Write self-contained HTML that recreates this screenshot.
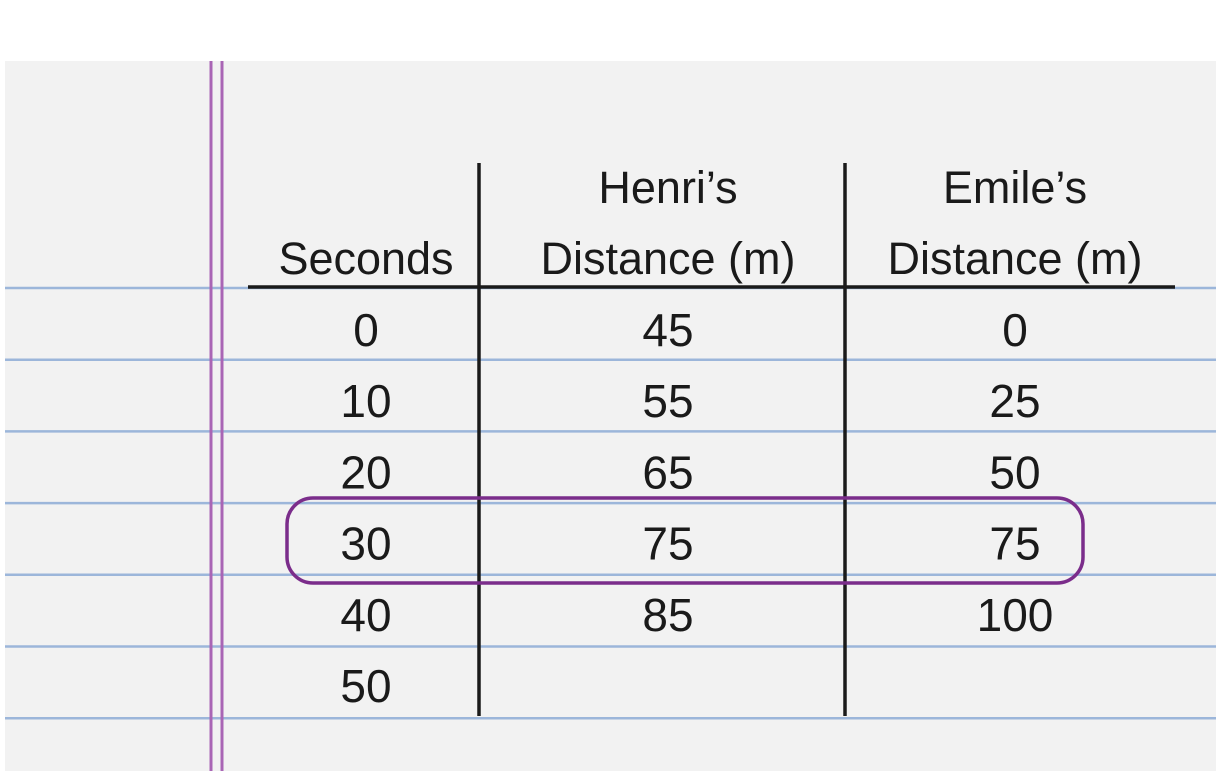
<!DOCTYPE html>
<html><head><meta charset="utf-8"><style>
html,body{margin:0;padding:0;background:#fff;}
svg{display:block;}
text{font-family:"Liberation Sans",sans-serif;fill:#1a1a1a;}
</style></head><body>
<svg width="1232" height="780" viewBox="0 0 1232 780">
<rect x="5" y="61" width="1211" height="710" fill="#f2f2f2"/>
<g id="rules"></g>
<line x1="211" y1="61" x2="211" y2="771" stroke="#a965b5" stroke-width="3"/>
<line x1="222" y1="61" x2="222" y2="771" stroke="#a965b5" stroke-width="3"/>
<g id="table">
<line x1="248" y1="287" x2="1175" y2="287" stroke="#1a1a1a" stroke-width="3.5"/>
<line x1="479" y1="163" x2="479" y2="716" stroke="#1a1a1a" stroke-width="3.5"/>
<line x1="845" y1="163" x2="845" y2="716" stroke="#1a1a1a" stroke-width="3.5"/>
<text x="366" y="274" font-size="45" text-anchor="middle">Seconds</text>
<text x="668" y="203" font-size="45" text-anchor="middle">Henri’s</text>
<text x="668" y="274" font-size="45" text-anchor="middle">Distance (m)</text>
<text x="1015" y="203" font-size="45" text-anchor="middle">Emile’s</text>
<text x="1015" y="274" font-size="45" text-anchor="middle">Distance (m)</text>
</g>
<g id="cells"></g>
<rect x="287" y="498" width="796" height="85" rx="26" fill="none" stroke="#7b2d8b" stroke-width="3.5"/>
</svg>
<script>
const seconds=["0","10","20","30","40","50"];
const henri=["45","55","65","75","85",""];
const emile=["0","25","50","75","100",""];
const NS="http://www.w3.org/2000/svg";
const rules=document.getElementById('rules');
for(let i=0;i<7;i++){
  const l=document.createElementNS(NS,'line');
  const y=288+i*71.7;
  l.setAttribute('x1',5);l.setAttribute('x2',1216);l.setAttribute('y1',y);l.setAttribute('y2',y);
  l.setAttribute('stroke','#9cb6da');l.setAttribute('stroke-width','2.5');
  
  
  rules.appendChild(l);
}
const cells=document.getElementById('cells');
const cols=[[366,seconds,'seconds'],[668,henri,'henri'],[1015,emile,'emile']];
cols.forEach(([x,arr,nm])=>{
  arr.forEach((v,i)=>{
    if(v==="")return;
    const t=document.createElementNS(NS,'text');
    t.setAttribute('x',x);t.setAttribute('y',346+i*71.2);
    t.setAttribute('font-size','46');t.setAttribute('text-anchor','middle');
    t.textContent=v;
    
    
    cells.appendChild(t);
  });
});
</script>
</body></html>
